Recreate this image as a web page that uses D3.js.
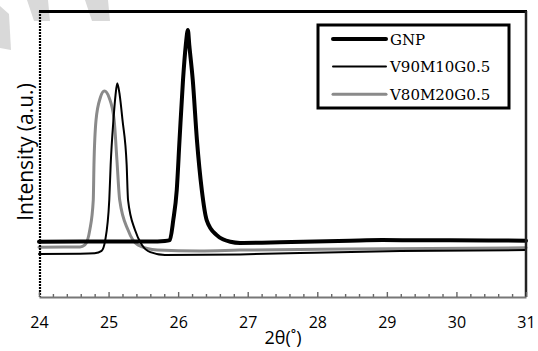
<!DOCTYPE html>
<html>
<head>
<meta charset="utf-8">
<script src="https://cdn.jsdelivr.net/npm/d3@7"></script>
<style>
html,body{margin:0;padding:0;background:#fff;}
svg{display:block;}
</style>
</head>
<body>
<svg id="chart" width="538" height="351"></svg>
<script>
// ---- data ----
const seriesNames = ["GNP", "V90M10G0.5", "V80M20G0.5"];
const xTicks = [24, 25, 26, 27, 28, 29, 30, 31];

const gnpX = [24.00, 24.88, 25.60, 25.81, 25.88, 25.93, 25.98, 26.02, 26.07, 26.11, 26.14, 26.16, 26.21, 26.27, 26.34, 26.41, 26.55, 26.75, 26.89, 27.46, 28.47, 28.94, 29.91, 31.00];
const gnpY = [19.3, 19.4, 19.4, 19.6, 19.9, 26.9, 37.4, 54.9, 75.9, 88.1, 93.4, 88.1, 75.9, 54.9, 37.4, 26.9, 21.7, 19.3, 18.9, 19.1, 19.7, 19.9, 19.8, 19.7];

const v90X = [24.00, 24.59, 24.80, 24.90, 24.95, 25.01, 25.03, 25.07, 25.10, 25.125, 25.16, 25.20, 25.26, 25.28, 25.38, 25.48, 25.60, 25.81, 26.89, 27.75, 29.19, 31.00];
const v90Y = [15.0, 15.1, 15.3, 16.1, 19.6, 33.9, 46.2, 61.9, 70.6, 74.7, 70.6, 61.9, 46.2, 33.9, 23.4, 18.2, 15.7, 14.7, 14.9, 15.4, 16.1, 16.4];

const v80X = [24.00, 24.45, 24.59, 24.66, 24.73, 24.78, 24.79, 24.82, 24.88, 24.94, 25.01, 25.08, 25.12, 25.16, 25.28, 25.42, 25.70, 26.31, 26.89, 28.47, 31.00];
const v80Y = [17.4, 17.5, 17.5, 18.2, 23.4, 33.9, 46.2, 61.9, 69.6, 72.0, 69.6, 61.9, 47.9, 33.9, 23.4, 18.2, 16.4, 16.1, 16.4, 16.8, 17.2];

// ---- layout ----
const svg = d3.select("#chart");
const mLeft = 39, mRight = 526, mTop = 11, mBottom = 297;

const x = d3.scaleLinear().domain([24, 31]).range([mLeft, mRight]);
const y = d3.scaleLinear().domain([0, 100]).range([mBottom, mTop]);

// watermark fragments (light gray)
const wm = [
  [[0,6],[9,14],[11,50],[0,48]],
  [[27,0],[48,0],[50,21],[34,21]],
  [[85,0],[108,0],[110,21],[92,21]]
];
svg.selectAll("polygon.wm").data(wm).enter().append("polygon")
  .attr("class","wm")
  .attr("points", d => d.map(p => p.join(",")).join(" "))
  .attr("fill", "#d9d9d9");

// series lines
const series = [
  {name: seriesNames[0], xs: gnpX, ys: gnpY, color: "#000", w: 4},
  {name: seriesNames[1], xs: v90X, ys: v90Y, color: "#000", w: 2},
  {name: seriesNames[2], xs: v80X, ys: v80Y, color: "#8a8a8a", w: 3}
];
const line = d3.line().x(d => x(d[0])).y(d => y(d[1])).curve(d3.curveMonotoneX);

// draw order: gray, thin, thick
[series[2], series[1], series[0]].forEach(s => {
  svg.append("path")
    .datum(s.xs.map((v, i) => [v, s.ys[i]]))
    .attr("d", line)
    .attr("fill", "none")
    .attr("stroke", s.color)
    .attr("stroke-width", s.w)
    .attr("stroke-linejoin", "round")
    .attr("stroke-linecap", "round");
});

// frame: top & right
svg.append("line").attr("x1", mLeft).attr("x2", mRight + 1).attr("y1", mTop + 0.5).attr("y2", mTop + 0.5)
  .attr("stroke", "#000").attr("stroke-width", 3);
svg.append("line").attr("x1", mRight).attr("x2", mRight).attr("y1", mTop).attr("y2", mBottom)
  .attr("stroke", "#222").attr("stroke-width", 2.5);

// left axis (dotted)
svg.append("line").attr("x1", mLeft + 1).attr("x2", mLeft + 1).attr("y1", mTop).attr("y2", mBottom)
  .attr("stroke", "#000").attr("stroke-width", 2.2).attr("stroke-dasharray", "2,1");

// bottom axis
const minorTicks = d3.range(0, 36).map(i => 24 + i * 0.2).filter(v => Math.abs(v - Math.round(v)) > 1e-6);
const gMinor = svg.append("g").attr("transform", `translate(0,${mBottom})`)
  .call(d3.axisBottom(x).tickValues(minorTicks).tickSize(-3).tickFormat(""));
gMinor.select(".domain").remove();
gMinor.selectAll("line").attr("stroke", "#666").attr("stroke-width", 1.4);

const gMajor = svg.append("g").attr("transform", `translate(0,${mBottom})`)
  .call(d3.axisBottom(x).tickValues(xTicks).tickSize(-5).tickSizeOuter(0).tickPadding(20).tickFormat(d3.format("d")));
gMajor.select(".domain").attr("stroke", "#777").attr("stroke-width", 2);
gMajor.selectAll(".tick line").attr("stroke", "#666").attr("stroke-width", 1.4);
gMajor.selectAll(".tick text")
  .attr("font-family", "'Open Sans', sans-serif")
  .attr("font-size", 16)
  .attr("fill", "#000");

// axis titles
svg.append("text")
  .attr("x", (mLeft + mRight) / 2 + 0.5).attr("y", 344)
  .attr("text-anchor", "middle")
  .attr("font-family", "'Open Sans', sans-serif")
  .attr("font-size", 18)
  .attr("fill", "#000")
  .text("2θ(˚)");

svg.append("text")
  .attr("transform", `translate(33,${(mTop + mBottom) / 2 - 2}) rotate(-90)`)
  .attr("text-anchor", "middle")
  .attr("font-family", "'Open Sans', sans-serif")
  .attr("font-size", 21)
  .attr("fill", "#000")
  .text("Intensity (a.u.)");

// legend
const lg = svg.append("g");
lg.append("rect").attr("x", 318).attr("y", 25).attr("width", 191).attr("height", 83)
  .attr("fill", "#fff").attr("stroke", "#000").attr("stroke-width", 3);
series.forEach((s, i) => {
  const yy = 39 + i * 27.6;
  lg.append("line").attr("x1", 333).attr("x2", 386).attr("y1", yy).attr("y2", yy)
    .attr("stroke", s.color).attr("stroke-width", s.w).attr("stroke-linecap", "round");
  lg.append("text").attr("x", 390).attr("y", yy + 5.5)
    .attr("font-family", "'DejaVu Serif', serif")
    .attr("font-size", 15)
    .attr("fill", "#000")
    .text(s.name);
});
</script>
</body>
</html>
